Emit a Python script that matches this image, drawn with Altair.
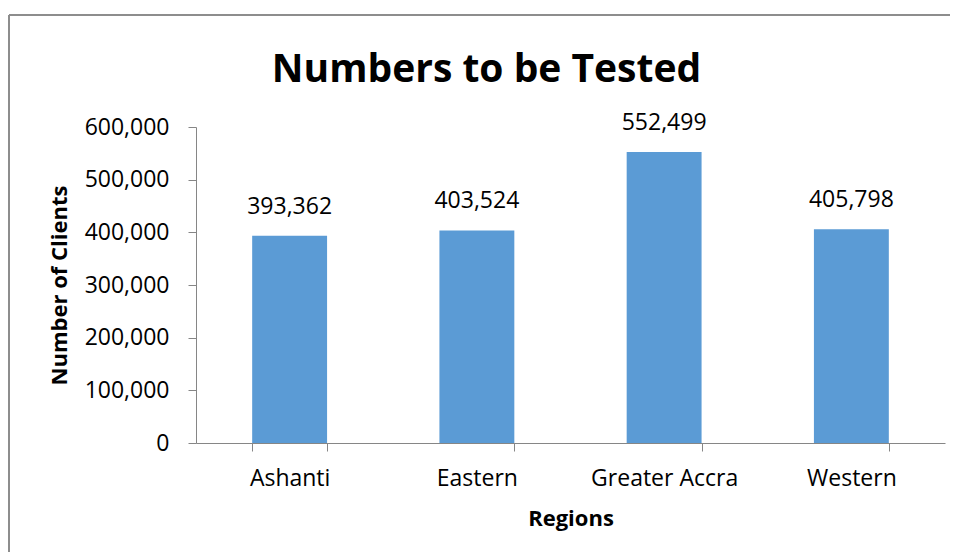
import altair as alt
import pandas as pd

regions = ["Ashanti", "Eastern", "Greater Accra", "Western"]
clients = [393362, 403524, 552499, 405798]
y_ticks = [0, 100000, 200000, 300000, 400000, 500000, 600000]

df = pd.DataFrame({"Region": regions, "Clients": clients})

FONT = "Open Sans"
W, H = 749, 316
PAD_L, PAD_T = 188, 119

x_enc = alt.X(
    "Region:N",
    sort=regions,
    scale=alt.Scale(paddingInner=0.6, paddingOuter=0.3),
    axis=alt.Axis(
        title="Regions",
        labelAngle=0,
        labelFontSize=23,
        labelFont=FONT,
        labelColor="#000000",
        labelBaseline="alphabetic",
        labelPadding=34,
        tickBand="extent",
        tickSize=8,
        tickColor="#868686",
        domainColor="#868686",
        titleFont=FONT,
        titleFontSize=22,
        titleFontWeight="bold",
        titleColor="#000000",
        titleBaseline="alphabetic",
        titleY=82,
    ),
)

y_enc = alt.Y(
    "Clients:Q",
    scale=alt.Scale(domain=[0, 600000], nice=False),
    axis=alt.Axis(
        title="Number of Clients",
        values=y_ticks,
        format=",.0f",
        grid=False,
        labelFontSize=23,
        labelFont=FONT,
        labelColor="#000000",
        labelPadding=19,
        tickSize=8,
        tickColor="#868686",
        domainColor="#868686",
        titleFont=FONT,
        titleFontSize=22,
        titleFontWeight="bold",
        titleColor="#000000",
        titleX=-137,
        titleBaseline="middle",
    ),
)

bars = alt.Chart(df).mark_bar(color="#5B9BD5").encode(x=x_enc, y=y_enc)

labels = alt.Chart(df).mark_text(
    baseline="alphabetic", dy=-22, fontSize=23, font=FONT, color="#000000"
).encode(
    x=x_enc,
    y=y_enc,
    text=alt.Text("Clients:Q", format=",.0f"),
)

frame_top = alt.Chart(df).mark_rule(color="#8c8c8c", strokeWidth=1.5).encode(
    x=alt.value(-187), x2=alt.value(800), y=alt.value(-112)
)
frame_left = alt.Chart(df).mark_rule(color="#8c8c8c", strokeWidth=1.5).encode(
    x=alt.value(-187), y=alt.value(-112), y2=alt.value(500)
)

chart = alt.layer(frame_top, frame_left, bars, labels).properties(
    width=W,
    height=H,
    title=alt.TitleParams(
        "Numbers to be Tested",
        font=FONT,
        fontSize=39,
        fontWeight="bold",
        color="#000000",
        anchor="middle",
        dx=-84,
        dy=107,
        baseline="alphabetic",
        offset=0,
    ),
    autosize=alt.AutoSizeParams(type="none"),
    padding={"left": PAD_L, "top": PAD_T, "right": 5, "bottom": 109},
).configure_view(stroke=None)

chart.save("out.html", embed_options={"renderer": "svg", "actions": False})
